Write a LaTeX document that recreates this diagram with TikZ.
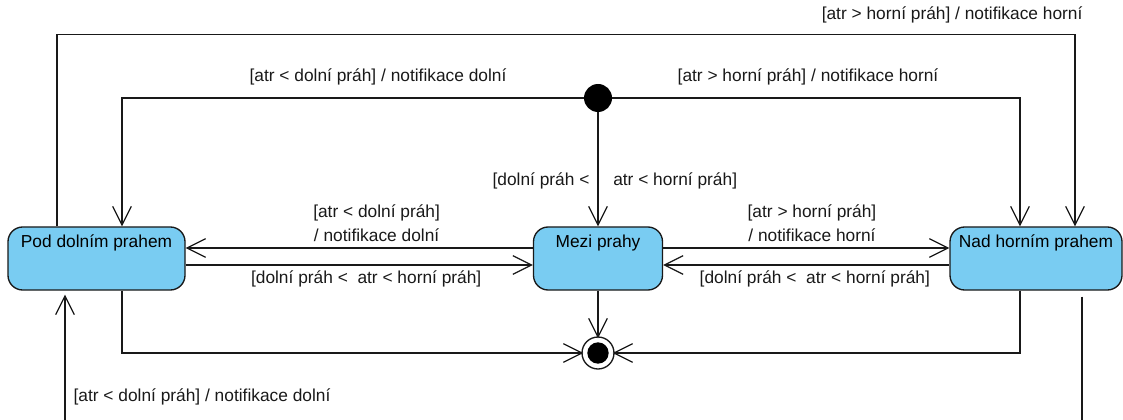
\documentclass[tikz,border=0pt]{standalone}
\usepackage{fontspec}
\setmainfont{Liberation Sans}
\usetikzlibrary{arrows.meta}
\usetikzlibrary{calc,positioning}
\usepackage{xcolor}
\definecolor{stateblue}{RGB}{121,204,242}

\tikzset{
  state/.style={draw=black!90, fill=stateblue, line width=1pt, rounded corners=11pt, minimum height=47.25pt, inner sep=0pt},
  stname/.style={font=\fontsize{13}{15}\selectfont, anchor=north, inner sep=0pt, yshift=-6pt},
  trans/.style={draw=black!90, line width=0.9pt, -{Straight Barb[length=14pt,width=14pt,line width=0.9pt]}},
  plain/.style={draw=black!90, line width=0.9pt},
  lbl/.style={font=\fontsize{13}{15}\selectfont, inner sep=1pt, text=black!90},
}

\begin{document}
\begin{tikzpicture}[x=0.75pt,y=-0.75pt]
\useasboundingbox (0,0) rectangle (1123,420);

\node [state, minimum width=132.75pt, label={[stname]north:Pod dolním prahem}] (pod) at (96.5,258.5) {};
\node [state, minimum width=96.75pt, label={[stname]north:Mezi prahy}] (mezi) at (598,258.5) {};
\node [state, minimum width=129pt, label={[stname]north:Nad horním prahem}] (nad) at (1036,258.5) {};

\node [circle, fill=black, minimum size=21pt, inner sep=0pt] (init) at (598,98) {};
\node [circle, draw=black!90, line width=1pt, fill=white, minimum size=24pt, inner sep=0pt] (final) at (598,353) {};
\node [circle, fill=black, minimum size=16pt, inner sep=0pt] (finaldot) at (final) {};

\coordinate (lowin) at (65,420);
\coordinate (lowout) at (1082,420);

% z pocatecniho stavu
\draw[trans] (init) -| ($(pod.north)+(25.5,0)$);
\draw[trans] (init) -| ($(nad.north)+(-16,0)$);
\draw[trans] (init) -- (mezi)
  node [lbl, pos=0.6, left=5pt] {[dolní práh <}
  node [lbl, pos=0.6, right=10pt] {atr < horní práh]};
\node [lbl] (tl) at (378,77) {[atr < dolní práh] / notifikace dolní};
\node [lbl] (tr) at (808,77) {[atr > horní práh] / notifikace horní};

% vnejsi smycka
\draw[trans] ($(pod.north)+(-39.5,0)$) -- ++(0,-192) -| ($(nad.north)+(39,0)$);
\node [lbl, anchor=east] (tt) at (1084,15) {[atr > horní práh] / notifikace horní};

% mezi stavy
\draw[trans] ($(mezi.west)+(0,-10.5)$) -- ($(pod.east)+(0,-10.5)$)
  node [lbl, pos=0.45, above=3pt, align=center] {[atr < dolní práh]\\[3.5pt]/ notifikace dolní};
\draw[trans] ($(pod.east)+(0,6.5)$) -- ($(mezi.west)+(0,6.5)$)
  node [lbl, pos=0.52, below=3pt] {[dolní práh <\ \ atr < horní práh]};
\draw[trans] ($(mezi.east)+(0,-10.5)$) -- ($(nad.west)+(0,-10.5)$)
  node [lbl, pos=0.52, above=3pt, align=center] {[atr > horní práh]\\[3.5pt]/ notifikace horní};
\draw[trans] ($(nad.west)+(0,6.5)$) -- ($(mezi.east)+(0,6.5)$)
  node [lbl, pos=0.47, below=3pt] {[dolní práh <\ \ atr < horní práh]};

% do koncoveho stavu
\draw[trans, shorten >=-1.5pt] ($(pod.south)+(25.5,0)$) |- (final);
\draw[trans, shorten >=-1.5pt] (mezi) -- (final);
\draw[trans, shorten >=-1.5pt] ($(nad.south)+(-16,0)$) |- (final);

% prechody mimo obrazek
\draw[trans, shorten >=3pt] (lowin) -- (lowin |- pod.south);
\node [lbl, anchor=west] (bl) at (72,397) {[atr < dolní práh] / notifikace dolní};
\draw[plain] ($(lowout |- nad.south)+(0,6)$) -- (lowout);
\end{tikzpicture}
\end{document}
